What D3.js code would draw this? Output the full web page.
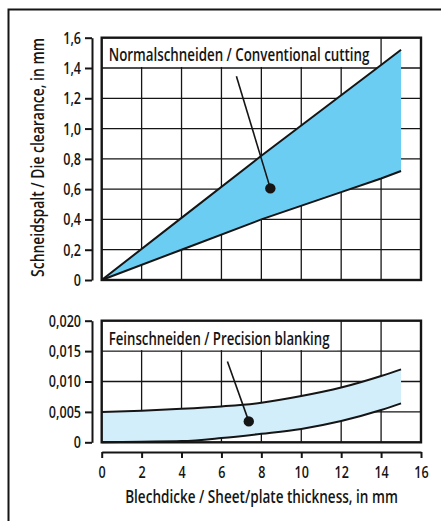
<!DOCTYPE html>
<html>
<head>
<meta charset="utf-8">
<script src="https://cdn.jsdelivr.net/npm/d3@7/dist/d3.min.js"></script>
<style>
  html, body { margin: 0; padding: 0; background: #fff; }
  svg { display: block; }
  text { font-family: "Open Sans", "Noto Sans", "DejaVu Sans", sans-serif; font-weight: 600; fill: #151515; }
</style>
</head>
<body>
<svg id="chart" width="441" height="521"></svg>
<script>
// Sheet thickness (mm) sample points
const thickness = [0, 4, 8, 12, 14, 15];
// Conventional cutting: die clearance band (mm)
const convUpper = [0, 0.41, 0.82, 1.22, 1.42, 1.52];
const convLower = [0, 0.20, 0.40, 0.58, 0.67, 0.72];

// Precision blanking: die clearance band (mm)
const fineThickness = [0, 2, 4, 6, 8, 10, 12, 14, 15];
const fineUpper = [0.0050, 0.0052, 0.0055, 0.0059, 0.0065, 0.0076, 0.0090, 0.0109, 0.0120];
const fineLower = [0, 0.0001, 0.0002, 0.0007, 0.0014, 0.0022, 0.0035, 0.0053, 0.0064];

// Axis ticks and labels
const xTicks = [0, 2, 4, 6, 8, 10, 12, 14, 16];
const convTicks = [0, 0.2, 0.4, 0.6, 0.8, 1.0, 1.2, 1.4, 1.6];
const convTickLabels = ["0", "0,2", "0,4", "0,6", "0,8", "1,0", "1,2", "1,4", "1,6"];
const fineTicks = [0, 0.005, 0.010, 0.015, 0.020];
const fineTickLabels = ["0", "0,005", "0,010", "0,015", "0,020"];

// Band titles and leader anchors [thickness, clearance]
const convTitle = "Normalschneiden / Conventional cutting";
const fineTitle = "Feinschneiden / Precision blanking";
const convLeader = [[6.75, 1.345], [8.45, 0.605]];
const fineLeader = [[6.3, 0.0133], [7.37, 0.00344]];

const yTitle = "Schneidspalt / Die clearance, in mm";
const xTitle = "Blechdicke / Sheet/plate thickness, in mm";

const svg = d3.select("#chart");
const ink = "#151515";
const narrow = 0.74; // horizontal squeeze for the condensed lettering

const x = d3.scaleLinear().domain([0, 16]).range([101.7, 421]);
const yTop = d3.scaleLinear().domain([0, 1.6]).range([280, 37.7]);
const yBot = d3.scaleLinear().domain([0, 0.02]).range([442.3, 320.7]);

// squeeze a text horizontally around its anchor point so it spans `width` px
function fitWidth(sel, width) {
  sel.each(function () {
    const t = d3.select(this);
    const w = this.getComputedTextLength();
    const s = width / w;
    const ax = +t.attr("x") || 0;
    t.attr("transform", (t.attr("transform") || "") + ` translate(${ax},0) scale(${s},1) translate(${-ax},0)`);
  });
}
function squeeze(sel, s) {
  sel.each(function () {
    const t = d3.select(this);
    const ax = +t.attr("x") || 0;
    t.attr("transform", `translate(${ax},0) scale(${s},1) translate(${-ax},0)`);
  });
}

// outer frame
svg.append("path")
  .attr("d", "M8.5,521V9.5H441")
  .attr("fill", "none").attr("stroke", ink).attr("stroke-width", 2);

function panel(y, ticks, labels, xs, up, lo, fillColor, curve, title, titleEndX, titleW, leader) {
  const g = svg.append("g");
  const [y0, y1] = y.range();
  const xl = x(0), xr = x(16);

  // grid
  const grid = g.append("g").attr("stroke", ink).attr("stroke-width", 1.3);
  grid.selectAll(".v").data(xTicks.slice(1, -1)).join("line")
    .attr("x1", d => x(d)).attr("x2", d => x(d)).attr("y1", y1).attr("y2", y0);
  grid.selectAll(".h").data(ticks.slice(1, -1)).join("line")
    .attr("x1", xl).attr("x2", xr).attr("y1", d => y(d)).attr("y2", d => y(d));

  // title box over the first grid row
  const rowBottom = y(ticks[ticks.length - 2]);
  g.append("rect").attr("x", xl).attr("y", y1)
    .attr("width", titleEndX - xl).attr("height", rowBottom - y1 - 1)
    .attr("fill", "#fff");
  g.append("text").attr("x", xl + 7).attr("y", rowBottom - 6.5)
    .attr("font-size", 17.5)
    .text(title)
    .call(fitWidth, titleW);

  // band
  const pts = xs.map((t, i) => ({ t, u: up[i], l: lo[i] }));
  g.append("path").datum(pts)
    .attr("fill", fillColor)
    .attr("d", d3.area().curve(curve).x(d => x(d.t)).y0(d => y(d.l)).y1(d => y(d.u)));
  [up, lo].forEach(arr => {
    g.append("path").datum(xs.map((t, i) => [t, arr[i]]))
      .attr("fill", "none").attr("stroke", ink).attr("stroke-width", 2)
      .attr("d", d3.line().curve(curve).x(d => x(d[0])).y(d => y(d[1])));
  });

  // leader with dot
  g.append("line")
    .attr("x1", x(leader[0][0])).attr("y1", y(leader[0][1]))
    .attr("x2", x(leader[1][0])).attr("y2", y(leader[1][1]))
    .attr("stroke", ink).attr("stroke-width", 1.6);
  g.append("circle").attr("cx", x(leader[1][0])).attr("cy", y(leader[1][1]))
    .attr("r", 5.2).attr("fill", ink);

  // plot frame
  g.append("rect").attr("x", xl).attr("y", y1).attr("width", xr - xl).attr("height", y0 - y1)
    .attr("fill", "none").attr("stroke", ink).attr("stroke-width", 2.4);

  // offset y axis
  const ax = g.append("g").attr("transform", "translate(92,0)")
    .call(d3.axisLeft(y).tickValues(ticks).tickFormat((d, i) => labels[i])
      .tickSize(7).tickSizeOuter(0).tickPadding(4));
  ax.select(".domain").attr("stroke", ink).attr("stroke-width", 2);
  ax.selectAll(".tick line").attr("stroke", ink).attr("stroke-width", 2);
  ax.selectAll(".tick text").attr("font-size", 17).attr("font-family", null).attr("fill", ink)
    .call(squeeze, narrow);
}

panel(yTop, convTicks, convTickLabels, thickness, convUpper, convLower,
  "#6ccdf3", d3.curveLinear, convTitle, x(13.65), 261, convLeader);
panel(yBot, fineTicks, fineTickLabels, fineThickness, fineUpper, fineLower,
  "#d3eefb", d3.curveMonotoneX, fineTitle, x(11.8), 221, fineLeader);

// offset x axis
const xa = svg.append("g").attr("transform", "translate(0,452)")
  .call(d3.axisBottom(x).tickValues(xTicks).tickSize(6).tickSizeOuter(0).tickPadding(8));
xa.select(".domain").attr("stroke", ink).attr("stroke-width", 2);
xa.selectAll(".tick line").attr("stroke", ink).attr("stroke-width", 2);
xa.selectAll(".tick text").attr("font-size", 17).attr("font-family", null).attr("fill", ink)
  .call(squeeze, narrow);

// axis titles
svg.append("text")
  .attr("transform", "translate(44,157.5) rotate(-90)")
  .attr("text-anchor", "middle").attr("font-size", 17.5)
  .text(yTitle)
  .call(fitWidth, 239);
svg.append("text")
  .attr("x", 261.5).attr("y", 503)
  .attr("text-anchor", "middle").attr("font-size", 17.5)
  .text(xTitle)
  .call(fitWidth, 273);
</script>
</body>
</html>
